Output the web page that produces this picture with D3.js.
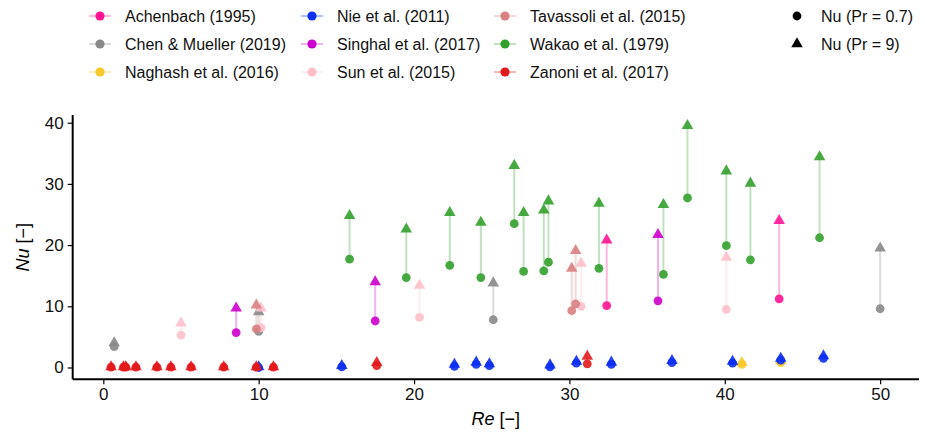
<!DOCTYPE html>
<html>
<head>
<meta charset="utf-8">
<script src="https://cdn.jsdelivr.net/npm/d3@7"></script>
<style>
  body { margin: 0; background: #fff; }
  text { font-family: "Liberation Sans", Arial, sans-serif; }
</style>
</head>
<body>
<div class="canvas"></div>
<script>
// series names and colours (legend order)
const seriesNames = ['Achenbach (1995)', 'Chen & Mueller (2019)', 'Naghash et al. (2016)',
  'Nie et al. (2011)', 'Singhal et al. (2017)', 'Sun et al. (2015)',
  'Tavassoli et al. (2015)', 'Wakao et al. (1979)', 'Zanoni et al. (2017)'];
const seriesColours = ['#ff1493', '#888888', '#f7c92a', '#0d2ff0', '#cc00cc',
  '#ffc0cb', '#d98080', '#33a02c', '#e31a1c'];

// Re, Nu at Pr = 0.7, Nu at Pr = 9
const achenbachRe = [32.4, 43.5];
const achenbachNu07 = [10.1, 11.2];
const achenbachNu9 = [20.8, 24.0];

const chenRe = [0.7, 10.0, 25.1, 50.0];
const chenNu07 = [3.4, 5.9, 7.8, 9.6];
const chenNu9 = [4.0, 9.1, 13.8, 19.5];

const naghashRe = [41.1, 43.6];
const naghashNu07 = [0.5, 0.8];
const naghashNu9 = [0.8, 1.1];

const nieRe = [10.0, 15.35, 22.6, 24.0, 24.85, 28.75, 30.45, 32.7, 36.6, 40.5, 43.6, 46.35];
const nieNu07 = [0.0, 0.1, 0.2, 0.5, 0.3, 0.1, 0.7, 0.5, 0.8, 0.7, 1.2, 1.5];
const nieNu9 = [0.1, 0.3, 0.5, 0.85, 0.6, 0.4, 1.0, 0.85, 1.1, 1.0, 1.5, 1.9];

const singhalRe = [8.55, 17.5, 35.7];
const singhalNu07 = [5.7, 7.6, 10.9];
const singhalNu9 = [9.7, 14.0, 21.7];

const sunRe = [5.0, 10.15, 20.35, 30.75, 40.1];
const sunNu07 = [5.3, 6.5, 8.2, 10.0, 9.5];
const sunNu9 = [7.25, 9.7, 13.4, 17.0, 18.0];

const tavassoliRe = [9.85, 30.15, 30.4];
const tavassoliNu07 = [6.3, 9.3, 10.4];
const tavassoliNu9 = [10.2, 16.2, 19.1];

const wakaoRe = [15.85, 19.5, 22.3, 24.3, 26.45, 27.05, 28.35, 28.65, 31.9, 36.05, 37.6, 40.1, 41.65, 46.1];
const wakaoNu07 = [17.7, 14.7, 16.7, 14.7, 23.5, 15.7, 15.8, 17.2, 16.2, 15.2, 27.7, 19.9, 17.6, 21.2];
const wakaoNu9 = [24.8, 22.6, 25.3, 23.7, 33.0, 25.3, 25.7, 27.2, 26.8, 26.6, 39.5, 32.1, 30.1, 34.4];

const zanoniRe = [0.5, 1.3, 1.45, 2.1, 3.45, 4.35, 5.65, 7.75, 9.85, 10.95, 17.6, 31.15];
const zanoniNu07 = [0.05, 0.05, 0.05, 0.05, 0.05, 0.05, 0.05, 0.05, 0.05, 0.05, 0.3, 0.6];
const zanoniNu9 = [0.1, 0.1, 0.1, 0.1, 0.1, 0.1, 0.1, 0.1, 0.1, 0.1, 0.8, 1.8];

const xTicks = [0, 10, 20, 30, 40, 50];
const yTicks = [0, 10, 20, 30, 40];

const seriesData = [
  [achenbachRe, achenbachNu07, achenbachNu9],
  [chenRe, chenNu07, chenNu9],
  [naghashRe, naghashNu07, naghashNu9],
  [nieRe, nieNu07, nieNu9],
  [singhalRe, singhalNu07, singhalNu9],
  [sunRe, sunNu07, sunNu9],
  [tavassoliRe, tavassoliNu07, tavassoliNu9],
  [wakaoRe, wakaoNu07, wakaoNu9],
  [zanoniRe, zanoniNu07, zanoniNu9],
];

const points = [];
seriesData.forEach(([re, nu07, nu9], s) => {
  re.forEach((r, i) => points.push({ s, re: r, nu07: nu07[i], nu9: nu9[i] }));
});

const dims = { width: 925, height: 433 };
const plot = { left: 72.7, right: 919, top: 115, bottom: 379.3 };

const svg = d3.select('.canvas').append('svg')
  .attr('width', dims.width)
  .attr('height', dims.height);

const x = d3.scaleLinear().domain([-1.97, 52.5]).range([plot.left, plot.right]);
const y = d3.scaleLinear().domain([-1.93, 41.26]).range([plot.bottom, plot.top]);
const colour = (s) => seriesColours[s];

const triangle = d3.symbol().type(d3.symbolTriangle).size(58);

// connector lines
svg.append('g').selectAll('line').data(points).enter().append('line')
  .attr('x1', (d) => x(d.re)).attr('x2', (d) => x(d.re))
  .attr('y1', (d) => y(d.nu07)).attr('y2', (d) => y(d.nu9))
  .attr('stroke', (d) => colour(d.s))
  .attr('stroke-opacity', 0.3)
  .attr('stroke-width', 2);

// markers, series by series
const marks = svg.append('g');
seriesNames.forEach((name, s) => {
  const sub = points.filter((d) => d.s === s);
  marks.append('g').selectAll('circle').data(sub).enter().append('circle')
    .attr('cx', (d) => x(d.re)).attr('cy', (d) => y(d.nu07))
    .attr('r', 4.4)
    .attr('fill', colour(s))
    .attr('fill-opacity', 0.9);
  marks.append('g').selectAll('path').data(sub).enter().append('path')
    .attr('d', triangle)
    .attr('transform', (d) => `translate(${x(d.re)},${y(d.nu9)})`)
    .attr('fill', colour(s))
    .attr('fill-opacity', 0.9);
});

// axes
const xAxis = svg.append('g')
  .attr('transform', `translate(0,${plot.bottom})`)
  .call(d3.axisBottom(x).tickValues(xTicks).tickSize(5).tickPadding(4).tickSizeOuter(0));
const yAxis = svg.append('g')
  .attr('transform', `translate(${plot.left},0)`)
  .call(d3.axisLeft(y).tickValues(yTicks).tickSize(5).tickPadding(4).tickSizeOuter(0));

[xAxis, yAxis].forEach((ax) => {
  ax.select('.domain').attr('stroke', '#000').attr('stroke-width', 2);
  ax.selectAll('.tick line').attr('stroke', '#000').attr('stroke-width', 1.2);
  ax.selectAll('.tick text')
    .attr('fill', '#111')
    .style('font-size', '17px')
    .style('font-family', '"Liberation Sans", Arial, sans-serif');
});
xAxis.select('.domain').attr('d', `M${plot.left},0H${plot.right}`);
yAxis.select('.domain').attr('d', `M0,${plot.top}V${plot.bottom}`);

// axis titles
const xTitle = svg.append('text')
  .attr('x', (plot.left + plot.right) / 2).attr('y', 425)
  .attr('text-anchor', 'middle').style('font-size', '18px');
xTitle.append('tspan').style('font-style', 'italic').text('Re');
xTitle.append('tspan').text(' [\u2212]');

const yTitle = svg.append('text')
  .attr('transform', `translate(29,${(plot.top + plot.bottom) / 2}) rotate(-90)`)
  .attr('text-anchor', 'middle').style('font-size', '18px');
yTitle.append('tspan').style('font-style', 'italic').text('Nu');
yTitle.append('tspan').text(' [\u2212]');

// legend for series
const legendCols = [89, 301, 494];
const legendRows = [16, 44, 72];
const legend = svg.append('g');
seriesNames.forEach((name, s) => {
  const lx = legendCols[Math.floor(s / 3)];
  const ly = legendRows[s % 3];
  const item = legend.append('g').attr('transform', `translate(${lx},${ly})`);
  item.append('line').attr('x1', 0).attr('x2', 22).attr('y1', 0).attr('y2', 0)
    .attr('stroke', colour(s)).attr('stroke-opacity', 0.3).attr('stroke-width', 2);
  item.append('circle').attr('cx', 11).attr('cy', 0).attr('r', 4.6).attr('fill', colour(s));
  item.append('text').attr('x', 36).attr('y', 6)
    .style('font-size', '16px').attr('fill', '#111').text(name);
});

// legend for marker shapes
const shapeLabels = ['Nu (Pr = 0.7)', 'Nu (Pr = 9)'];
shapeLabels.forEach((label, i) => {
  const item = legend.append('g').attr('transform', `translate(797,${legendRows[i]})`);
  if (i === 0) {
    item.append('circle').attr('r', 4.4).attr('fill', '#000');
  } else {
    item.append('path').attr('d', triangle).attr('fill', '#000');
  }
  item.append('text').attr('x', 24).attr('y', 6)
    .style('font-size', '16px').attr('fill', '#111').text(label);
});
</script>
</body>
</html>
